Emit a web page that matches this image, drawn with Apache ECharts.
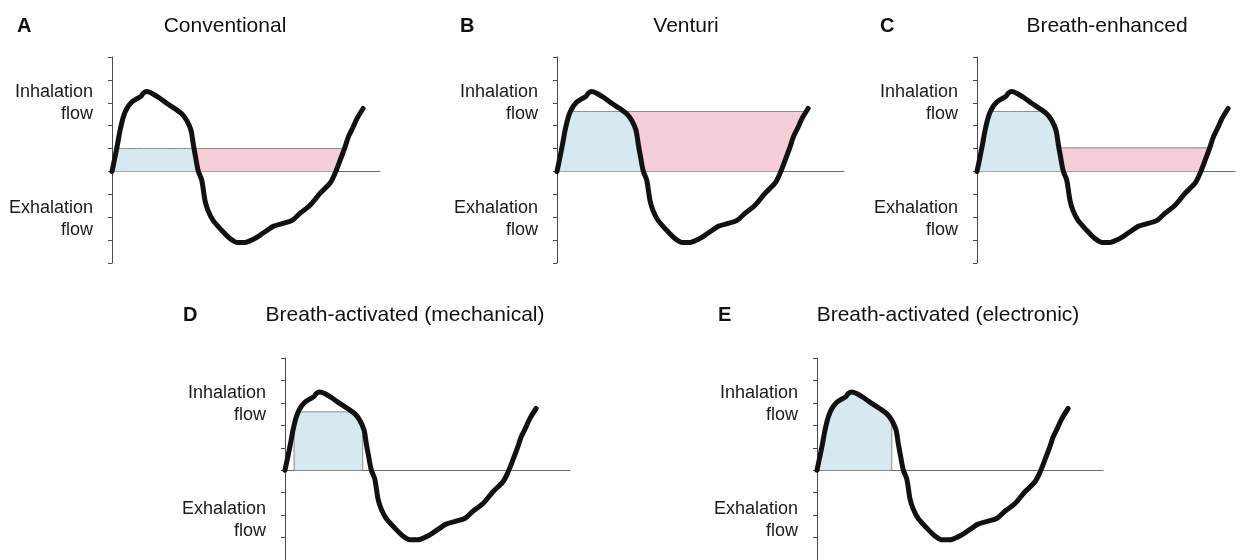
<!DOCTYPE html>
<html><head><meta charset="utf-8">
<script src="https://cdn.jsdelivr.net/npm/echarts@6/dist/echarts.min.js"></script>
<style>html,body{margin:0;padding:0;background:#fff}#c{width:1247px;height:560px}</style>
</head><body><div id="c"></div>
<script>
// ---------- data ----------
const panelLetters = ['A', 'B', 'C', 'D', 'E'];
const panelTitles = ['Conventional', 'Venturi', 'Breath-enhanced', 'Breath-activated (mechanical)', 'Breath-activated (electronic)'];
const axisLabelsTop = ['Inhalation', 'flow'];
const axisLabelsBottom = ['Exhalation', 'flow'];
const yMin = -4, yMax = 5, yStep = 1;

// breathing flow curve (time units, flow units)
const curveX = [0, 1.1, 2.1, 3.0, 4.2, 5.5, 7.4, 9.2, 10.8, 11.7, 12.9, 14.8, 17.3, 20.4, 23.5, 26.0, 27.9, 29.5, 30.3, 31.2, 32.2, 33.5, 34.7, 35.8, 37.7, 41.0, 44.0, 46.6, 49.6, 52.6, 55.2, 57.8, 60.1, 63.8, 67.2, 70.1, 73.9, 77.6, 81.3, 83.2, 85.1, 86.9, 88.1, 89.9, 91.4, 93.7];
const curveY = [0, 0.62, 1.21, 1.79, 2.37, 2.74, 3.03, 3.17, 3.28, 3.42, 3.49, 3.42, 3.24, 2.98, 2.74, 2.52, 2.23, 1.79, 1.21, 0.62, 0.01, -0.39, -1.27, -1.70, -2.14, -2.58, -2.93, -3.10, -3.10, -2.97, -2.79, -2.58, -2.40, -2.27, -2.14, -1.83, -1.48, -0.96, -0.52, -0.09, 0.48, 1.05, 1.48, 1.92, 2.31, 2.75];

// shaded regions per panel
const blueCap = [1.0, 2.62, 2.62, 2.6, null];     // flow level capping the blue (dose) area
const blueStart = [0, 0, 0, 3.4, 0];
const blueEnd = [null, null, null, 29.0, 27.9];    // null = until flow crosses zero
const pinkLevel = [1.0, 2.62, 1.03, null, null];   // flow level of pink area

// ---------- layout (px) ----------
const layout = [
  { left: 112, top: 57, width: 268 },
  { left: 557, top: 57, width: 287 },
  { left: 977, top: 57, width: 258 },
  { left: 285, top: 358, width: 285 },
  { left: 817, top: 358, width: 286 }
];
const PX_PER_X = 2.68, GRID_H = 206;
const letterX = [17, 460, 880, 183, 718];
const titleCX = [225, 686, 1107, 405, 948];
const headY = [26, 26, 26, 315, 315];
const FONT = '"Liberation Sans", Arial, Helvetica, sans-serif';
const BLUE = '#d6e9f0', PINK = '#f5ced8', EDGE = '#8c8c8c';

// ---------- helpers ----------
function c(x) {
  for (let i = 0; i < curveX.length - 1; i++) {
    if (x >= curveX[i] && x <= curveX[i + 1]) {
      const t = (x - curveX[i]) / (curveX[i + 1] - curveX[i]);
      return curveY[i] + t * (curveY[i + 1] - curveY[i]);
    }
  }
  return curveY[curveY.length - 1];
}
function crossings(H) {
  const out = [];
  for (let i = 0; i < curveX.length - 1; i++) {
    const a = curveY[i] - H, b = curveY[i + 1] - H;
    if (a === 0) { out.push({ x: curveX[i], dir: Math.sign(b) }); continue; }
    if (a * b < 0) {
      const t = a / (a - b);
      out.push({ x: curveX[i] + t * (curveX[i + 1] - curveX[i]), dir: b > a ? 1 : -1 });
    }
  }
  return out;
}
const peakIdx = curveY.indexOf(Math.max(...curveY));
const peakX = curveX[peakIdx];
function firstDown(H) { return crossings(H).find(o => o.x > peakX && o.dir < 0).x; }
function nextUp(H, after) { return crossings(H).find(o => o.x > after && o.dir > 0).x; }
function uniqSorted(arr) {
  arr.sort((a, b) => a - b);
  return arr.filter((v, i) => i === 0 || v - arr[i - 1] > 1e-6);
}
const curvePts = curveX.map((x, i) => [x, curveY[i]]);

// blue area: 0 .. min(curve, cap), between start and end
function bluePolygon(k) {
  const a = blueStart[k];
  const b = blueEnd[k] == null ? firstDown(0) : blueEnd[k];
  const cap = blueCap[k] == null ? Infinity : blueCap[k];
  let xs = [a, b].concat(curveX.filter(x => x > a && x < b));
  if (isFinite(cap)) crossings(cap).forEach(o => { if (o.x > a && o.x < b) xs.push(o.x); });
  xs = uniqSorted(xs);
  const pts = xs.map(x => [x, Math.max(0, Math.min(c(x), cap))]);
  if (pts[0][1] > 1e-3) pts.unshift([a, 0]);
  if (pts[pts.length - 1][1] > 1e-3) pts.push([b, 0]);
  return pts;
}
// pink area: between max(curve,0) and level H, enclosed by the curve
function pinkPolygon(k) {
  const H = pinkLevel[k];
  const xa = firstDown(H), xd = firstDown(0);
  const xb = nextUp(H, xa), xc = nextUp(0, xd);
  const pts = [[xd, 0]];
  curvePts.filter(p => p[0] > xa && p[0] < xd).reverse().forEach(p => pts.push(p));
  pts.push([xa, H], [xb, H]);
  curvePts.filter(p => p[0] > xc && p[0] < xb).reverse().forEach(p => pts.push(p));
  pts.push([xc, 0]);
  return pts;
}
function polygonSeries(k, pts, fill, z) {
  return {
    type: 'custom', coordinateSystem: 'cartesian2d', xAxisIndex: k, yAxisIndex: k,
    data: pts, encode: { x: 0, y: 1 }, silent: true, z: z, clip: true,
    renderItem: function (params, api) {
      if (params.dataIndexInside !== 0) return null;
      const n = params.dataInsideLength;
      const points = [];
      for (let i = 0; i < n; i++) points.push(api.coord([api.value(0, i), api.value(1, i)]));
      return {
        type: 'group',
        children: [
          { type: 'polygon', shape: { points: points }, style: { fill: fill } },
          { type: 'polyline', shape: { points: points }, style: { fill: null, stroke: EDGE, lineWidth: 1 } }
        ]
      };
    }
  };
}

// ---------- option ----------
const grids = [], xAxes = [], yAxes = [], series = [], graphics = [];

layout.forEach((L, k) => {
  grids.push({ left: L.left, top: L.top, width: L.width, height: GRID_H, containLabel: false });
  xAxes.push({
    gridIndex: k, type: 'value', min: 0, max: L.width / PX_PER_X,
    axisLine: { show: true, onZero: true, lineStyle: { color: '#6a6a6a', width: 1 } },
    axisTick: { show: false }, axisLabel: { show: false }, splitLine: { show: false }
  });
  yAxes.push({
    gridIndex: k, type: 'value', min: yMin, max: yMax, interval: yStep,
    axisLine: { show: true, onZero: false, lineStyle: { color: '#4a4a4a', width: 1 } },
    axisTick: { show: true, length: 4, lineStyle: { color: '#4a4a4a', width: 1 } },
    axisLabel: { show: false }, splitLine: { show: false }
  });

  if (pinkLevel[k] != null) series.push(polygonSeries(k, pinkPolygon(k), PINK, 1));
  series.push(polygonSeries(k, bluePolygon(k), BLUE, 2));
  series.push({
    type: 'line', xAxisIndex: k, yAxisIndex: k, data: curvePts, smooth: 0.3,
    symbol: 'none', silent: true, lineStyle: { color: '#111', width: 5, cap: 'round', join: 'round' }, z: 5
  });

  const y0 = L.top + GRID_H * (yMax / (yMax - yMin));
  const rx = L.left - 19;
  const lblFont = '18px ' + FONT;
  [[axisLabelsTop[0], y0 - 79], [axisLabelsTop[1], y0 - 57], [axisLabelsBottom[0], y0 + 37], [axisLabelsBottom[1], y0 + 58.5]]
    .forEach(([t, y]) => graphics.push({
      type: 'text', x: rx, y: y, silent: true,
      style: { text: t, font: lblFont, fill: '#1a1a1a', align: 'right', textAlign: 'right', verticalAlign: 'middle', textVerticalAlign: 'middle' }
    }));
  graphics.push({
    type: 'text', x: letterX[k], y: headY[k], silent: true,
    style: { text: panelLetters[k], font: 'bold 20px ' + FONT, fill: '#111', align: 'left', textAlign: 'left', verticalAlign: 'middle', textVerticalAlign: 'middle' }
  });
  graphics.push({
    type: 'text', x: titleCX[k], y: headY[k], silent: true,
    style: { text: panelTitles[k], font: '21px ' + FONT, fill: '#111', align: 'center', textAlign: 'center', verticalAlign: 'middle', textVerticalAlign: 'middle' }
  });
});

const chart = echarts.init(document.getElementById('c'), null, { renderer: 'canvas' });
chart.setOption({
  animation: false,
  backgroundColor: '#fff',
  grid: grids, xAxis: xAxes, yAxis: yAxes, series: series, graphic: graphics
});
</script>
</body></html>
